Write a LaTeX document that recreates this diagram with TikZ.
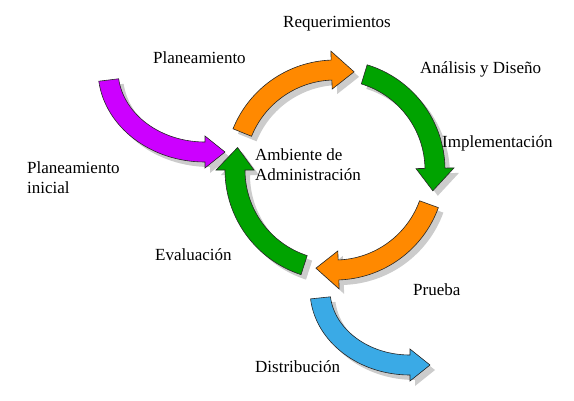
\documentclass[tikz,border=0pt]{standalone}
\usepackage{fontspec}
\setmainfont{Liberation Serif}
\usetikzlibrary{positioning}

\definecolor{cycleorange}{RGB}{255,137,0}
\definecolor{cyclegreen}{RGB}{0,163,0}
\definecolor{startpurple}{RGB}{204,0,255}
\definecolor{deployblue}{RGB}{58,170,230}

\begin{document}
\begin{tikzpicture}[
    x=1pt, y=1pt,
    % Styles
    stagelabel/.style={font=\fontsize{17}{20}\selectfont, inner sep=0pt, align=left},
    arrowbody/.style={draw=black!85, line width=0.6pt, line join=miter,
        preaction={fill=black!20, draw=none, transform canvas={shift={(5pt,-5pt)}}}},
]
\useasboundingbox (0,0) rectangle (574,-400);

% Entry arrow (initial planning)
\begin{scope}[shift={(205,-70)}]
    \filldraw[arrowbody, fill=startpurple] (187:107 and 92) arc[start angle=187, end angle=270, x radius=107, y radius=92]
        -- (0,-98) -- (20,-82) -- (0,-66)
        -- (270:87 and 72) arc[start angle=270, end angle=187, x radius=87, y radius=72] -- cycle;
\end{scope}

% Exit arrow (distribution)
\begin{scope}[shift={(410,-290)}]
    \filldraw[arrowbody, fill=deployblue] (186:100 and 85) arc[start angle=186, end angle=270, x radius=100, y radius=85]
        -- (0,-91) -- (20,-75) -- (0,-59)
        -- (270:80 and 65) arc[start angle=270, end angle=186, x radius=80, y radius=65] -- cycle;
\end{scope}

% Main cycle
\begin{scope}[shift={(335,-170)}]
    % Planeamiento -> Requerimientos
    \filldraw[arrowbody, fill=cycleorange] (158:110) arc[start angle=158, end angle=92, radius=110]
        -- (92:119) -- (79:100) -- (92:81) -- (92:90) arc[start angle=92, end angle=158, radius=90] -- cycle;
    % Analisis -> Implementacion
    \filldraw[arrowbody, fill=cyclegreen] (73:110) arc[start angle=73, end angle=1, radius=110]
        -- (1:119) -- (-12:100) -- (1:81) -- (1:90) arc[start angle=1, end angle=73, radius=90] -- cycle;
    % Prueba
    \filldraw[arrowbody, fill=cycleorange] (-20:110) arc[start angle=-20, end angle=-88, radius=110]
        -- (-88:119) -- (-101:100) -- (-88:81) -- (-88:90) arc[start angle=-88, end angle=-20, radius=90] -- cycle;
    % Evaluacion -> back to start
    \filldraw[arrowbody, fill=cyclegreen] (-108:110) arc[start angle=-108, end angle=-180, radius=110]
        -- (180:119) -- (167:100) -- (180:81) -- (180:90) arc[start angle=-180, end angle=-108, radius=90] -- cycle;
\end{scope}

% Labels
\node[stagelabel, anchor=base west] (req) at (283,-27) {Requerimientos};
\node[stagelabel, anchor=base west] (plan) at (153,-63) {Planeamiento};
\node[stagelabel, anchor=base west] (analisis) at (420,-73) {Análisis y Diseño};
\node[stagelabel, anchor=base west] (impl) at (442,-147) {Implementación};
\node[stagelabel, anchor=north west] (ambiente) at (255,-148.4) {Ambiente de\\Administración};
\node[stagelabel, anchor=north west] (inicial) at (27,-161.4) {Planeamiento\\inicial};
\node[stagelabel, anchor=base west] (eval) at (155,-260) {Evaluación};
\node[stagelabel, anchor=base west] (prueba) at (413,-295) {Prueba};
\node[stagelabel, anchor=base west] (dist) at (255,-372) {Distribución};

\end{tikzpicture}
\end{document}
